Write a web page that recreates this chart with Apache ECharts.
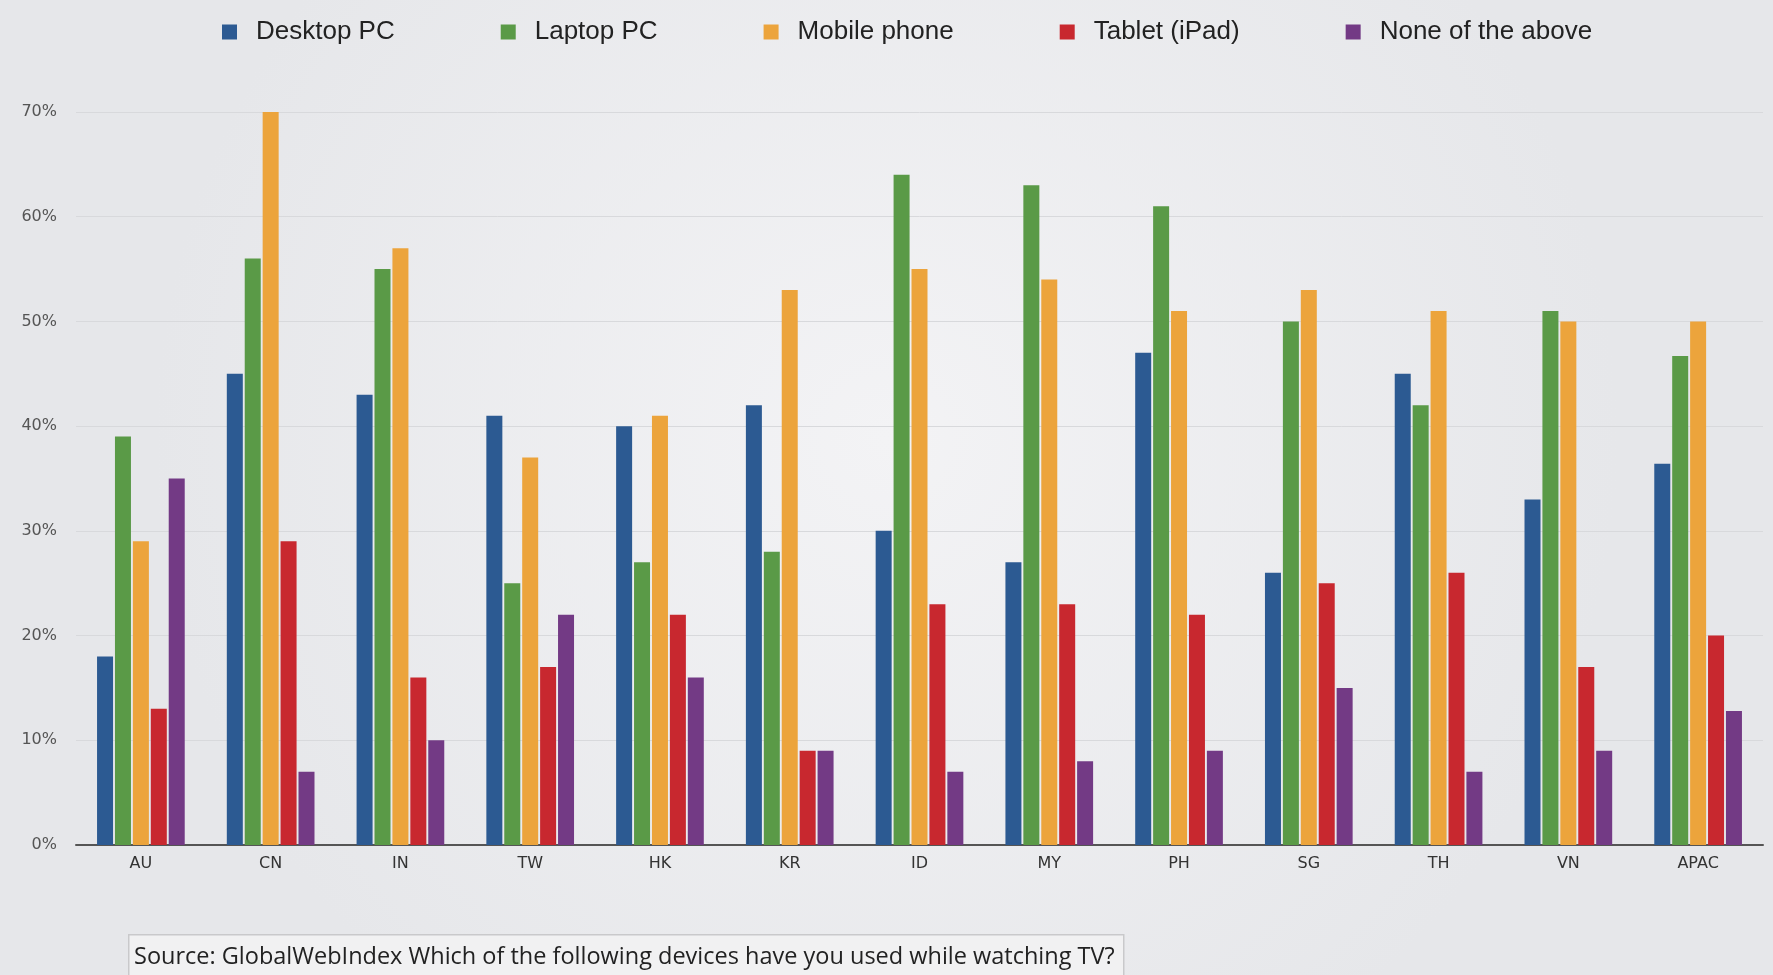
<!DOCTYPE html>
<html>
<head>
<meta charset="utf-8">
<title>Devices used while watching TV</title>
<script src="https://cdn.jsdelivr.net/npm/echarts@6/dist/echarts.min.js"></script>
<style>
  html, body { margin: 0; padding: 0; width: 1773px; height: 975px; overflow: hidden; }
  #chart { width: 1773px; height: 975px; }
</style>
</head>
<body>
<div id="chart"></div>
<script>
// Markets surveyed
const markets = ['AU', 'CN', 'IN', 'TW', 'HK', 'KR', 'ID', 'MY', 'PH', 'SG', 'TH', 'VN', 'APAC'];

// Share of TV viewers using each device while watching (%)
const desktopPC   = [18, 45, 43, 41, 40, 42, 30, 27, 47, 26, 45, 33, 36.4];
const laptopPC    = [39, 56, 55, 25, 27, 28, 64, 63, 61, 50, 42, 51, 46.7];
const mobilePhone = [29, 70, 57, 37, 41, 53, 55, 54, 51, 53, 51, 50, 50];
const tabletIPad  = [13, 29, 16, 17, 22, 9, 23, 23, 22, 25, 26, 17, 20];
const noneAbove   = [35, 7, 10, 22, 16, 9, 7, 8, 9, 15, 7, 9, 12.8];

const seriesNames = ['Desktop PC', 'Laptop PC', 'Mobile phone', 'Tablet (iPad)', 'None of the above'];
const seriesData = [desktopPC, laptopPC, mobilePhone, tabletIPad, noneAbove];
const seriesColors = ['#2c5a92', '#5a9a47', '#eca43c', '#c8282f', '#733a85'];

const sourceText = 'Source: GlobalWebIndex Which of the following devices have you used while watching TV?';

const chart = echarts.init(document.getElementById('chart'), null, { renderer: 'canvas' });

const option = {
  backgroundColor: {
    type: 'radial', x: 0.5, y: 0.45, r: 0.75,
    colorStops: [
      { offset: 0, color: '#f3f3f5' },
      { offset: 1, color: '#e6e7ea' }
    ]
  },
  animation: false,
  color: seriesColors,
  legend: {
    top: 14,
    left: 217,
    itemWidth: 15,
    itemHeight: 15,
    itemGap: 106,
    icon: 'rect',
    textStyle: {
      fontFamily: 'Liberation Sans, Arial, sans-serif',
      fontSize: 26,
      color: '#222',
      padding: [0, 0, 0, 14]
    },
    data: seriesNames
  },
  grid: {
    left: 76,
    right: 10,
    top: 112,
    bottom: 130,
    containLabel: false
  },
  xAxis: {
    type: 'category',
    data: markets,
    axisTick: { show: false },
    axisLine: { show: true, lineStyle: { color: '#555', width: 2 } },
    axisLabel: {
      margin: 11,
      fontFamily: 'DejaVu Sans, sans-serif',
      fontSize: 16,
      color: '#333'
    }
  },
  yAxis: {
    type: 'value',
    min: 0,
    max: 70,
    interval: 10,
    axisLine: { show: false },
    axisTick: { show: false },
    axisLabel: {
      formatter: '{value}%',
      margin: 19,
      fontFamily: 'DejaVu Sans, sans-serif',
      fontSize: 16,
      color: '#555'
    },
    splitLine: { lineStyle: { color: '#d8d9dc', width: 1 } }
  },
  series: seriesNames.map((name, i) => ({
    name: name,
    type: 'bar',
    data: seriesData[i],
    barWidth: 16,
    barGap: '12%',
    itemStyle: { color: seriesColors[i] }
  })),
  graphic: [
    {
      type: 'rect',
      left: 128,
      top: 934,
      shape: { width: 995, height: 60 },
      style: { fill: '#f1f1f2', stroke: '#c9c9cb', lineWidth: 1.5 },
      z: 10
    },
    {
      type: 'text',
      left: 134,
      top: 945,
      style: {
        text: sourceText,
        fontFamily: 'Open Sans, sans-serif',
        fontSize: 23.5,
        fill: '#222'
      },
      z: 11
    }
  ]
};

chart.setOption(option);
</script>
</body>
</html>
